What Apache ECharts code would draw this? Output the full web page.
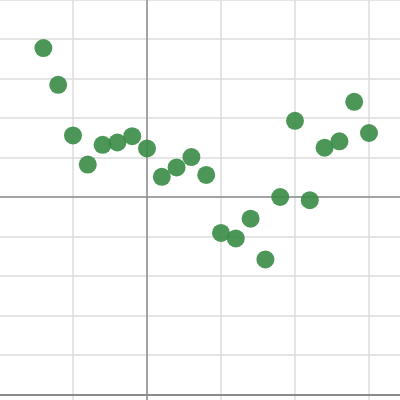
<!DOCTYPE html>
<html><head><meta charset="utf-8">
<script src="https://cdn.jsdelivr.net/npm/echarts@6/dist/echarts.min.js"></script>
<style>html,body{margin:0;padding:0;background:#fff;overflow:hidden;width:400px;height:400px;position:relative}
#c{position:absolute;left:-75px;top:-40px;width:518px;height:474px}</style>
</head><body><div id="c"></div>
<script>
var xValues = [-1.4,-1.2,-1.0,-0.8,-0.6,-0.4,-0.2,0.0,0.2,0.4,0.6,0.8,1.0,1.2,1.4,1.6,1.8,2.0,2.2,2.4,2.6,2.8,3.0];
var yValues = [3.77,2.84,1.56,0.82,1.32,1.38,1.54,1.23,0.51,0.75,1.01,0.56,-0.91,-1.05,-0.55,-1.58,0.0,1.93,-0.08,1.25,1.41,2.41,1.62];
var xRange = [-3, 4];
var yRange = [-6, 6];
var bottomLine = -5;

var pts = xValues.map(function(x,i){return [x, yValues[i]];});
var chart = echarts.init(document.getElementById('c'), null, {renderer:'canvas'});
chart.setOption({
  animation:false,
  backgroundColor:'#fff',
  grid:{left:0, right:0, top:0, bottom:0, containLabel:false},
  xAxis:{
    type:'value', min:xRange[0], max:xRange[1], interval:1,
    axisLine:{show:true, onZero:true, lineStyle:{color:'#8c8c8c', width:1.5}},
    axisTick:{show:false}, axisLabel:{show:false},
    splitLine:{show:true, lineStyle:{color:'#dcdcdc', width:1.5}}
  },
  yAxis:{
    type:'value', min:yRange[0], max:yRange[1], interval:1,
    axisLine:{show:true, onZero:true, lineStyle:{color:'#8c8c8c', width:1.5}},
    axisTick:{show:false}, axisLabel:{show:false},
    splitLine:{show:true, lineStyle:{color:'#dcdcdc', width:1.5}}
  },
  series:[{
    type:'scatter', data:pts, symbolSize:18,
    itemStyle:{color:'#388c46', opacity:0.9},
    markLine:{silent:true, symbol:'none', label:{show:false},
      lineStyle:{color:'#8c8c8c', width:2, type:'solid', opacity:1},
      data:[{yAxis:bottomLine}]}
  }]
});
</script></body></html>
